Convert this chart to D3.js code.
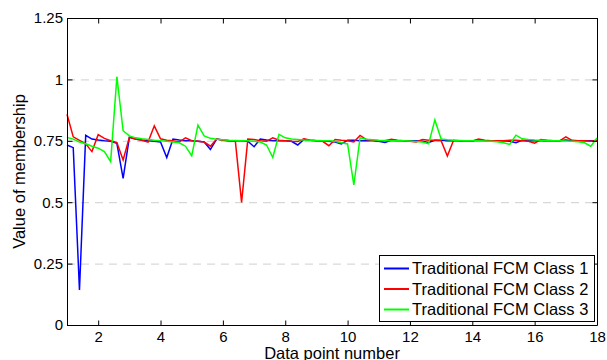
<!DOCTYPE html>
<html>
<head>
<meta charset="utf-8">
<script src="https://cdn.jsdelivr.net/npm/d3@7"></script>
<style>
  html, body { margin: 0; padding: 0; background: #fff; }
  svg { display: block; font-family: "Liberation Sans", Arial, sans-serif; }
</style>
</head>
<body>
<svg id="chart" width="607" height="360"></svg>
<script>
// ---- data ----
const xStart = 1, xStep = 0.2;
const seriesNames = ["Traditional FCM Class 1", "Traditional FCM Class 2", "Traditional FCM Class 3"];
const seriesColors = ["#0000ff", "#ff0000", "#00ff00"];
const class1 = [
  0.733, 0.722, 0.143, 0.772, 0.757, 0.753, 0.750, 0.748, 0.740, 0.597,
  0.764, 0.757, 0.753, 0.750, 0.748, 0.745, 0.682, 0.757, 0.753, 0.750,
  0.750, 0.748, 0.745, 0.715, 0.757, 0.753, 0.750, 0.750, 0.750, 0.748,
  0.726, 0.757, 0.753, 0.750, 0.750, 0.750, 0.748, 0.733, 0.756, 0.752,
  0.750, 0.750, 0.748, 0.745, 0.737, 0.752, 0.752, 0.750, 0.750, 0.750,
  0.748, 0.743, 0.752, 0.750, 0.750, 0.750, 0.750, 0.748, 0.743, 0.752,
  0.752, 0.750, 0.750, 0.750, 0.750, 0.750, 0.752, 0.750, 0.750, 0.750,
  0.750, 0.748, 0.742, 0.752, 0.750, 0.750, 0.750, 0.750, 0.750, 0.750,
  0.753, 0.750, 0.750, 0.750, 0.750, 0.750
];
const class2 = [
  0.858, 0.766, 0.752, 0.738, 0.706, 0.775, 0.760, 0.750, 0.743, 0.672,
  0.764, 0.757, 0.752, 0.745, 0.811, 0.758, 0.752, 0.750, 0.745, 0.762,
  0.750, 0.748, 0.745, 0.728, 0.757, 0.752, 0.750, 0.748, 0.499, 0.757,
  0.755, 0.750, 0.748, 0.762, 0.752, 0.750, 0.748, 0.747, 0.758, 0.752,
  0.750, 0.748, 0.730, 0.755, 0.752, 0.750, 0.745, 0.772, 0.755, 0.752,
  0.750, 0.750, 0.756, 0.752, 0.750, 0.748, 0.745, 0.755, 0.752, 0.752,
  0.750, 0.688, 0.752, 0.750, 0.750, 0.748, 0.757, 0.752, 0.750, 0.750,
  0.750, 0.752, 0.752, 0.750, 0.748, 0.740, 0.755, 0.752, 0.750, 0.750,
  0.766, 0.752, 0.750, 0.750, 0.748, 0.752
];
const class3 = [
  0.764, 0.757, 0.745, 0.738, 0.728, 0.720, 0.706, 0.665, 1.011, 0.791,
  0.770, 0.762, 0.758, 0.755, 0.752, 0.750, 0.748, 0.745, 0.742, 0.728,
  0.689, 0.814, 0.770, 0.760, 0.756, 0.754, 0.752, 0.751, 0.750, 0.750,
  0.748, 0.745, 0.733, 0.682, 0.776, 0.762, 0.757, 0.755, 0.753, 0.752,
  0.751, 0.750, 0.750, 0.748, 0.742, 0.737, 0.570, 0.762, 0.756, 0.754,
  0.752, 0.751, 0.750, 0.750, 0.750, 0.749, 0.747, 0.745, 0.738, 0.835,
  0.757, 0.754, 0.752, 0.751, 0.750, 0.750, 0.750, 0.749, 0.748, 0.746,
  0.742, 0.735, 0.773, 0.758, 0.755, 0.753, 0.752, 0.751, 0.750, 0.750,
  0.749, 0.748, 0.746, 0.742, 0.728, 0.762
];
const xTicks = [2, 4, 6, 8, 10, 12, 14, 16, 18];
const yTicks = [0, 0.25, 0.5, 0.75, 1, 1.25];
const yTickLabels = ["0", "0.25", "0.5", "0.75", "1", "1.25"];
const gridValues = [0.25, 0.5, 0.75, 1];
const xLabel = "Data point number";
const yLabel = "Value of membership";

// ---- layout ----
const svg = d3.select("#chart");
const L = 67, R = 597, T = 18, B = 325;
const x = d3.scaleLinear().domain([1, 18]).range([L, R]);
const y = d3.scaleLinear().domain([0, 1.25]).range([B, T]);
const fsTick = 15;
const fsLabel = 16.5;

// grid
svg.append("g").selectAll("line").data(gridValues).join("line")
  .attr("x1", L).attr("x2", R)
  .attr("y1", d => y(d) + 0.5).attr("y2", d => y(d) + 0.5)
  .attr("stroke", "#cfcfcf").attr("stroke-width", 1)
  .attr("stroke-dasharray", "8,6");

// lines
const allSeries = [class1, class2, class3];
const line = d3.line()
  .x((d, i) => x(xStart + i * xStep))
  .y(d => y(d));
svg.append("g").selectAll("path").data(allSeries).join("path")
  .attr("d", d => line(d))
  .attr("fill", "none")
  .attr("stroke", (d, i) => seriesColors[i])
  .attr("stroke-width", 1.5)
  .attr("stroke-linejoin", "miter");

// axes (MATLAB style box, inward ticks)
const tickLen = 5;
const xAxisB = d3.axisBottom(x).tickValues(xTicks).tickSize(-tickLen).tickPadding(6).tickFormat(d3.format("d"));
const xAxisT = d3.axisTop(x).tickValues(xTicks).tickSize(-tickLen).tickFormat("");
const yAxisL = d3.axisLeft(y).tickValues(yTicks).tickSize(-tickLen).tickPadding(4.5).tickFormat((d, i) => yTickLabels[i]);
const yAxisR = d3.axisRight(y).tickValues(yTicks).tickSize(-tickLen).tickFormat("");

function style(g) {
  g.select(".domain").attr("stroke", "#000").attr("stroke-width", 1);
  g.selectAll(".tick line").attr("stroke", "#000").attr("stroke-width", 1);
  g.selectAll(".tick text").attr("fill", "#000").attr("font-size", fsTick)
    .attr("font-family", '"Liberation Sans", Arial, sans-serif');
}
svg.append("g").attr("transform", `translate(0,${B + 0.5})`).call(xAxisB).call(style)
  .call(g => g.select(".domain").attr("d", `M${L},0H${R}`));
svg.append("g").attr("transform", `translate(0,${T + 0.5})`).call(xAxisT).call(style)
  .call(g => g.select(".domain").attr("d", `M${L},0H${R}`));
svg.append("g").attr("transform", `translate(${L + 0.5},0)`).call(yAxisL).call(style)
  .call(g => g.select(".domain").attr("d", `M0,${T}V${B}`));
svg.append("g").attr("transform", `translate(${R + 0.5},0)`).call(yAxisR).call(style)
  .call(g => g.select(".domain").attr("d", `M0,${T}V${B}`));

// axis labels
svg.append("text").attr("x", (L + R) / 2).attr("y", 358.5)
  .attr("text-anchor", "middle").attr("font-size", fsLabel).attr("fill", "#000").text(xLabel);
svg.append("text").attr("transform", `translate(25,${(T + B) / 2}) rotate(-90)`)
  .attr("text-anchor", "middle").attr("font-size", fsLabel).attr("fill", "#000").text(yLabel);

// legend
const lgX = 379.5, lgY = 255.5, lgW = 215, lgH = 66;
const lg = svg.append("g");
lg.append("rect").attr("x", lgX).attr("y", lgY).attr("width", lgW).attr("height", lgH)
  .attr("fill", "#fff").attr("stroke", "#000").attr("stroke-width", 1);
const rowY = [268.5, 289, 309.5];
seriesNames.forEach((name, i) => {
  lg.append("line").attr("x1", 384).attr("x2", 409).attr("y1", rowY[i]).attr("y2", rowY[i])
    .attr("stroke", seriesColors[i]).attr("stroke-width", 2);
  lg.append("text").attr("x", 412).attr("y", rowY[i] + 5.8)
    .attr("font-size", fsLabel).attr("fill", "#000").text(name);
});
</script>
</body>
</html>
